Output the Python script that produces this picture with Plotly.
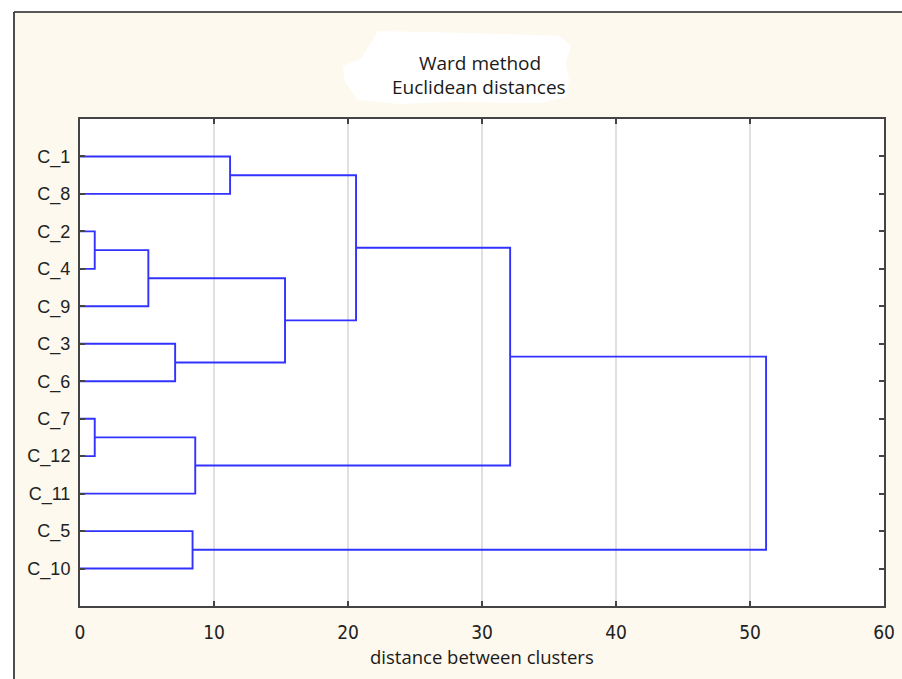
import plotly.graph_objects as go

# ---- data -------------------------------------------------------------
leaves = ["C_1", "C_8", "C_2", "C_4", "C_9", "C_3", "C_6",
          "C_7", "C_12", "C_11", "C_5", "C_10"]
# linkage: cluster ids 0..11 are leaves, 12.. are merges in order
merge_left = [2, 7, 12, 5, 10, 13, 0, 14, 18, 20, 21]
merge_right = [3, 8, 4, 6, 11, 9, 1, 15, 19, 17, 16]
merge_dist = [1.1, 1.1, 5.1, 7.1, 8.4, 8.6, 11.2, 15.3, 20.6, 32.1, 51.2]
x_ticks = [0, 10, 20, 30, 40, 50, 60]

# ---- dendrogram geometry from linkage ---------------------------------
n = len(leaves)
pos = {i: i + 1 for i in range(n)}       # leaf position on y axis
height = {i: 0.0 for i in range(n)}
xs, ys = [], []
for k, (a, b, d) in enumerate(zip(merge_left, merge_right, merge_dist)):
    cid = n + k
    ya, yb = pos[a], pos[b]
    xs += [height[a], d, d, height[b], None]
    ys += [ya, ya, yb, yb, None]
    pos[cid] = (ya + yb) / 2
    height[cid] = d

fig = go.Figure()
fig.add_trace(go.Scatter(x=xs, y=ys, mode="lines",
                         line=dict(color="rgb(50,50,255)", width=1.9),
                         hoverinfo="skip", showlegend=False))

# ---- layout ------------------------------------------------------------
W, H = 902, 679
PL, PR, PT, PB = 80, 884, 119, 606  # plot area in page pixels
pw, ph = PR - PL, PB - PT


def px(xp):
    return (xp - PL) / pw


def py(yp):
    return (PB - yp) / ph


cream = "#FDF9EE"
shapes = [
    dict(type="rect", xref="paper", yref="paper", x0=px(-5), x1=px(W + 5),
         y0=py(12), y1=py(-5), fillcolor="white", line_width=0, layer="below"),
    dict(type="rect", xref="paper", yref="paper", x0=px(-5), x1=px(14),
         y0=py(H + 5), y1=py(-5), fillcolor="white", line_width=0, layer="below"),
    dict(type="line", xref="paper", yref="paper", x0=px(14), x1=px(W + 5),
         y0=py(12), y1=py(12), line=dict(color="#222", width=1.6)),
    dict(type="line", xref="paper", yref="paper", x0=px(14), x1=px(14),
         y0=py(12), y1=py(H + 5), line=dict(color="#222", width=1.6)),
]
blob = [(378, 31), (470, 33), (560, 36), (571, 46), (566, 62), (569, 80),
        (566, 97), (540, 103), (450, 102), (400, 104), (358, 100),
        (345, 82), (343, 66), (362, 58), (370, 44)]
path = "M " + " L ".join(f"{px(a):.4f},{py(b):.4f}" for a, b in blob) + " Z"
shapes.append(dict(type="path", xref="paper", yref="paper", path=path,
                   fillcolor="white", line_width=0, layer="below"))

txt_font = dict(family="Open Sans", size=19, color="#1a1a1a")
fig.update_layout(
    width=W, height=H,
    margin=dict(l=PL, r=W - PR, t=PT, b=H - PB, pad=0),
    paper_bgcolor=cream, plot_bgcolor="white",
    shapes=shapes,
    showlegend=False,
    annotations=[
        dict(text="Ward method", xref="paper", yref="paper", x=px(480), y=py(63),
             xanchor="center", yanchor="middle", showarrow=False, font=txt_font),
        dict(text="Euclidean distances", xref="paper", yref="paper", x=px(479),
             y=py(87), xanchor="center", yanchor="middle", showarrow=False,
             font=txt_font),
        dict(text="distance between clusters", xref="paper", yref="paper",
             x=px(482), y=py(656), xanchor="center", yanchor="middle",
             showarrow=False,
             font=dict(family="Open Sans", size=18.5, color="#1a1a1a")),
    ],
)
fig.update_xaxes(
    range=[0, 60], tickvals=x_ticks, ticktext=[str(v) for v in x_ticks],
    showgrid=True, gridcolor="#e0e0e0", gridwidth=1.6,
    zeroline=False, showline=True, linecolor="#444", linewidth=2,
    mirror="ticks", ticks="inside", ticklen=5, tickcolor="#444", tickwidth=1.5,
    ticklabelstandoff=8, automargin=False,
    tickfont=dict(family="DejaVu Sans Condensed, Liberation Sans", size=19,
                  color="#222"),
)
fig.update_yaxes(
    range=[len(leaves) + 1, 0], tickvals=list(range(1, len(leaves) + 1)),
    ticktext=leaves, showgrid=False, zeroline=False,
    showline=True, linecolor="#444", linewidth=2,
    mirror="ticks", ticks="inside", ticklen=5, tickcolor="#444", tickwidth=1.5,
    ticklabelstandoff=4, automargin=False,
    tickfont=dict(family="Liberation Sans", size=18, color="#222"),
)

fig.write_html(
    "out.html",
    config={"displayModeBar": False},
    post_script="document.body.style.margin='0';"
                "document.body.style.overflow='hidden';",
)
